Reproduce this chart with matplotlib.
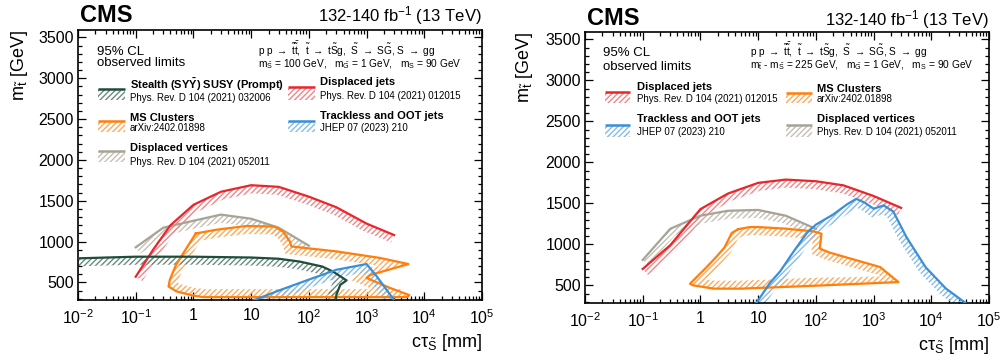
import numpy as np
import matplotlib
matplotlib.use("Agg")
import matplotlib.pyplot as plt
from matplotlib.path import Path
from matplotlib.patches import PathPatch, Rectangle
from matplotlib.ticker import FixedLocator, FixedFormatter, LogLocator, MultipleLocator, NullFormatter

# ---------------- data ----------------
# left panel: m_S~ = 100 GeV
L_red_x = [0.1, 0.2, 0.4, 1, 3, 10, 30, 100, 300, 1000, 3000]
L_red_y = [570, 900, 1200, 1450, 1610, 1690, 1670, 1550, 1420, 1220, 1080]
L_gray_x = [0.1, 0.3, 1, 3, 10, 30, 100]
L_gray_y = [930, 1170, 1255, 1330, 1280, 1170, 950]
L_green_x = [0.01, 0.1, 1, 10, 30, 70, 170, 260, 450, 350, 300, 290]
L_green_y = [795, 815, 815, 805, 790, 755, 695, 635, 525, 470, 350, 270]
L_orange_x = [1.1, 2.5, 8, 25, 36, 47, 50, 300, 1700, 5300, 1150, 1000, 2500, 5500, 5000, 1.5, 1.0, 0.51, 0.37, 0.39, 0.5, 0.59]
L_orange_y = [1100, 1145, 1190, 1185, 1120, 1000, 940, 880, 800, 725, 590, 555, 435, 345, 320, 320, 338, 390, 450, 533, 716, 798]
L_blue_x = [10, 30, 80, 300, 1000, 1500, 3100]
L_blue_y = [270, 400, 510, 655, 725, 575, 270]

# right panel: m_t~ - m_S~ = 225 GeV
R_red_x = [0.1, 0.3, 1, 3, 10, 30, 100, 300, 1000, 3000]
R_red_y = [700, 990, 1430, 1620, 1750, 1790, 1770, 1720, 1590, 1445]
R_gray_x = [0.1, 0.3, 1, 3, 10, 30, 100]
R_gray_y = [810, 1190, 1350, 1410, 1420, 1350, 1190]
R_orange_x = [4.5, 7.2, 10, 31, 92, 125, 117, 175, 1300, 2700, 92, 5, 1.7, 0.75, 0.66, 1.25, 1.9, 2.6, 3.5]
R_orange_y = [1185, 1211, 1211, 1191, 1158, 1130, 948, 899, 723, 540, 495, 460, 460, 500, 520, 715, 850, 960, 1140]
R_blue_x = [9, 16, 24, 40, 70, 100, 200, 350, 500, 700, 1000, 1500, 2200, 3700, 8000, 18000, 42000]
R_blue_y = [270, 530, 670, 900, 1140, 1240, 1365, 1490, 1555, 1510, 1435, 1475, 1400, 1090, 720, 460, 270]

x_ticks = [1e-2, 1e-1, 1, 10, 1e2, 1e3, 1e4, 1e5]
x_ticklabels = [r"$10^{-2}$", r"$10^{-1}$", "1", "10", r"$10^{2}$", r"$10^{3}$", r"$10^{4}$", r"$10^{5}$"]
y_ticks = [500, 1000, 1500, 2000, 2500, 3000, 3500]

analyses = {
    "stealth": ("Stealth (SY$\\mathbf{\\bar{Y}}$) SUSY (Prompt)", "Phys. Rev. D 104 (2021) 032006"),
    "djets": ("Displaced jets", "Phys. Rev. D 104 (2021) 012015"),
    "ms": ("MS Clusters", "arXiv:2402.01898"),
    "oot": ("Trackless and OOT jets", "JHEP 07 (2023) 210"),
    "dv": ("Displaced vertices", "Phys. Rev. D 104 (2021) 052011"),
}

# ---------------- style ----------------
plt.rcParams['font.family'] = ['Liberation Sans', 'DejaVu Sans']
plt.rcParams['mathtext.fontset'] = 'custom'
plt.rcParams['mathtext.rm'] = 'Liberation Sans'
plt.rcParams['mathtext.it'] = 'Liberation Sans'
plt.rcParams['mathtext.bf'] = 'Liberation Sans:bold'
plt.rcParams['mathtext.sf'] = 'Liberation Sans'
plt.rcParams['hatch.linewidth'] = 1.0

HATCH = '//////'

COL = {
    "djets": ("#e8262b", "#f0868a"),
    "stealth": ("#1e4d3b", "#6a8c7e"),
    "ms": ("#ff7f0a", "#ffa95c"),
    "oot": ("#3a8fd6", "#86bbe8"),
    "dv": ("#a7a395", "#c4c0b5"),
}

W, H = 1003, 358
fig = plt.figure(figsize=(W / 100, H / 100), dpi=100)

def px_axes(x0, x1, ytop, ybot):
    return [x0 / W, (H - ybot) / H, (x1 - x0) / W, (ybot - ytop) / H]

axL = fig.add_axes(px_axes(78, 482, 30, 300))
axR = fig.add_axes(px_axes(585, 989, 32, 303))

for ax in (axL, axR):
    ax.set_xscale('log')
    ax.set_xlim(1e-2, 1e5)
    ax.set_ylim(285, 3590)
    ax.xaxis.set_major_locator(FixedLocator(x_ticks))
    ax.xaxis.set_major_formatter(FixedFormatter(x_ticklabels))
    ax.xaxis.set_minor_locator(LogLocator(base=10, subs=np.arange(2, 10), numticks=20))
    ax.xaxis.set_minor_formatter(NullFormatter())
    ax.yaxis.set_major_locator(FixedLocator(y_ticks))
    ax.yaxis.set_minor_locator(MultipleLocator(100))
    ax.tick_params(which='both', direction='in', top=True, right=True, width=0.9, labelsize=11.5)
    ax.tick_params(which='major', length=6)
    ax.tick_params(which='minor', length=3)
    ax.tick_params(axis='x', which='major', pad=6)
    ax.tick_params(axis='y', which='major', pad=3)
    for s in ax.spines.values():
        s.set_linewidth(1.2)


def hatch_band(ax, x, y, key, closed=False, width=8.0):
    line_c, hatch_c = COL[key]
    P = ax.transData.transform(np.column_stack([x, y]).astype(float))
    if closed:
        d_in = P - np.roll(P, 1, axis=0)
        d_out = np.roll(P, -1, axis=0) - P
    else:
        d = np.diff(P, axis=0)
        d_in = np.vstack([d[:1], d])
        d_out = np.vstack([d, d[-1:]])
    u_in = d_in / np.linalg.norm(d_in, axis=1, keepdims=True)
    u_out = d_out / np.linalg.norm(d_out, axis=1, keepdims=True)
    n_in = np.column_stack([u_in[:, 1], -u_in[:, 0]])
    n_out = np.column_stack([u_out[:, 1], -u_out[:, 0]])
    nm = n_in + n_out
    nrm = np.linalg.norm(nm, axis=1, keepdims=True)
    nm = np.where(nrm < 1e-6, n_in, nm / np.maximum(nrm, 1e-9))
    cos = np.abs((nm * n_in).sum(axis=1))
    scale = width / np.maximum(cos, 0.45)
    Q = P + nm * scale[:, None]
    if closed:
        verts = np.vstack([P, P[:1], Q[::-1], Q[-1:]])
        codes = ([Path.MOVETO] + [Path.LINETO] * (len(P) - 1) + [Path.CLOSEPOLY]) * 2
    else:
        verts = np.vstack([P, Q[::-1], P[:1]])
        codes = [Path.MOVETO] + [Path.LINETO] * (2 * len(P) - 1) + [Path.CLOSEPOLY]
    vd = ax.transData.inverted().transform(verts)
    ax.add_patch(PathPatch(Path(vd, codes), facecolor='none', edgecolor=hatch_c,
                           lw=0, hatch=HATCH, zorder=2))
    xs, ys = list(x), list(y)
    if closed:
        xs, ys = xs + xs[:1], ys + ys[:1]
    ax.plot(xs, ys, color=line_c, lw=1.6, zorder=3, solid_joinstyle='round')


# left panel curves
hatch_band(axL, L_gray_x, L_gray_y, "dv")
hatch_band(axL, L_red_x, L_red_y, "djets")
hatch_band(axL, L_orange_x, L_orange_y, "ms", closed=True)
hatch_band(axL, L_green_x, L_green_y, "stealth")
hatch_band(axL, L_blue_x, L_blue_y, "oot")

# right panel curves
hatch_band(axR, R_gray_x, R_gray_y, "dv")
hatch_band(axR, R_red_x, R_red_y, "djets")
hatch_band(axR, R_orange_x, R_orange_y, "ms", closed=True)
hatch_band(axR, R_blue_x, R_blue_y, "oot")


def legend_entry(ax, key, sx0, sx1, sytop, sybot, tx, ty_title, ty_ref):
    line_c, hatch_c = COL[key]
    ax.add_patch(Rectangle((sx0, sybot), sx1 - sx0, sytop - sybot, transform=ax.transAxes,
                           facecolor='none', edgecolor=hatch_c, lw=0, hatch=HATCH, clip_on=False))
    ax.plot([sx0, sx1], [sytop, sytop], transform=ax.transAxes, color=line_c, lw=1.8,
            clip_on=False, solid_capstyle='butt')
    title, ref = analyses[key]
    ax.text(tx, ty_title, title, transform=ax.transAxes, fontsize=8, fontweight='bold',
            ha='left', va='center')
    ax.text(tx, ty_ref, ref, transform=ax.transAxes, fontsize=7, ha='left', va='center')


PROC1 = r"p p $\rightarrow$ $\tilde{t}\bar{\tilde{t}}$,  $\tilde{t}$ $\rightarrow$ t$\tilde{S}$g,  $\tilde{S}$ $\rightarrow$ S$\tilde{G}$, S $\rightarrow$ gg"

# ---- left panel texts ----
axL.text(0.047, 0.919, "95% CL", transform=axL.transAxes, fontsize=9.5, va='center')
axL.text(0.047, 0.876, "observed limits", transform=axL.transAxes, fontsize=9.5, va='center')
axL.text(0.446, 0.928, PROC1, transform=axL.transAxes, fontsize=7.3, va='center')
axL.text(0.446, 0.873, r"m$_{\tilde{S}}$ = 100 GeV,   m$_{\tilde{G}}$ = 1 GeV,   m$_{S}$ = 90 GeV",
         transform=axL.transAxes, fontsize=7.3, va='center')
legend_entry(axL, "stealth", 0.050, 0.116, 0.781, 0.741, 0.129, 0.796, 0.748)
legend_entry(axL, "ms", 0.050, 0.116, 0.662, 0.622, 0.129, 0.674, 0.637)
legend_entry(axL, "dv", 0.050, 0.116, 0.551, 0.511, 0.129, 0.563, 0.511)
legend_entry(axL, "djets", 0.520, 0.587, 0.789, 0.741, 0.599, 0.807, 0.756)
legend_entry(axL, "oot", 0.520, 0.587, 0.662, 0.622, 0.599, 0.681, 0.637)

# ---- right panel texts ----
axR.text(0.045, 0.922, "95% CL", transform=axR.transAxes, fontsize=9.5, va='center')
axR.text(0.045, 0.871, "observed limits", transform=axR.transAxes, fontsize=9.5, va='center')
axR.text(0.408, 0.932, PROC1, transform=axR.transAxes, fontsize=7.3, va='center')
axR.text(0.408, 0.877, r"m$_{\tilde{t}}$ - m$_{\tilde{S}}$ = 225 GeV,   m$_{\tilde{G}}$ = 1 GeV,   m$_{S}$ = 90 GeV",
         transform=axR.transAxes, fontsize=7.3, va='center')
legend_entry(axR, "djets", 0.050, 0.111, 0.779, 0.738, 0.129, 0.798, 0.752)
legend_entry(axR, "oot", 0.050, 0.111, 0.657, 0.613, 0.129, 0.679, 0.630)
legend_entry(axR, "ms", 0.498, 0.562, 0.775, 0.738, 0.574, 0.790, 0.752)
legend_entry(axR, "dv", 0.498, 0.562, 0.657, 0.613, 0.574, 0.679, 0.630)

# ---- headers and axis labels ----
for ax, yb, ylx in ((axL, 1.03, -0.145), (axR, 1.026, -0.149)):
    ax.text(0.005, yb, "CMS", transform=ax.transAxes, fontsize=17, fontweight='bold',
            ha='left', va='baseline')
    ax.text(1.0, yb, r"132-140 fb$^{-1}$ (13 TeV)", transform=ax.transAxes, fontsize=12,
            ha='right', va='baseline')
    ax.text(ylx, 1.0, r"m$_{\tilde{t}}$ [GeV]", transform=ax.transAxes, fontsize=13,
            rotation=90, ha='center', va='top')
    ax.text(1.0, -0.174, r"c$\tau_{\tilde{S}}$ [mm]", transform=ax.transAxes, fontsize=13,
            ha='right', va='baseline')

fig.savefig("out.png", dpi=100)
